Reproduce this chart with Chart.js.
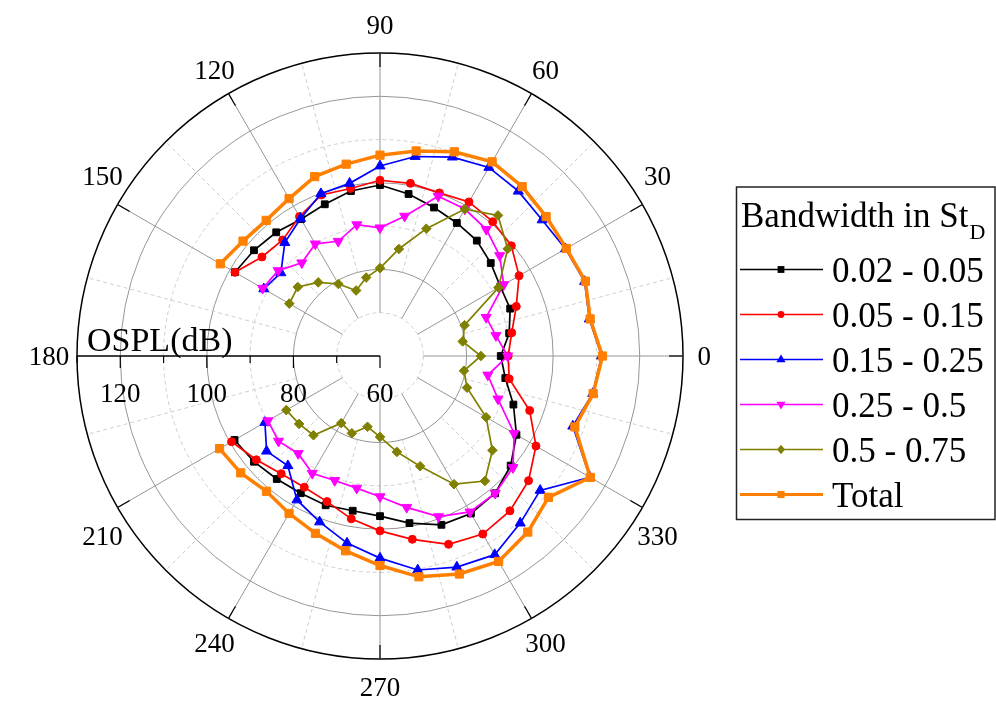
<!DOCTYPE html>
<html>
<head>
<meta charset="utf-8">
<script src="https://cdn.jsdelivr.net/npm/chart.js@4/dist/chart.umd.min.js"></script>
<style>
  html, body { margin: 0; padding: 0; background: #ffffff; }
  canvas { display: block; }
</style>
</head>
<body>
<canvas id="polar" width="996" height="702"></canvas>
<script>
// Directivity of OSPL (dB) per Strouhal band, sampled every 10 degrees.
// No data between 160 and 200 degrees.
const angles = [0, 10, 20, 30, 40, 50, 60, 70, 80, 90, 100, 110, 120, 130, 140, 150, 160, 170,
                180, 190, 200, 210, 220, 230, 240, 250, 260, 270, 280, 290, 300, 310, 320, 330, 340, 350];

const seriesLabels = ['0.02 - 0.05', '0.05 - 0.15', '0.15 - 0.25', '0.25 - 0.5', '0.5 - 0.75', 'Total'];

const osplBand1 = [87.9, 90.3, 92.0, 92.1, 93.4, 94.8, 95.5, 96.5, 98.0, 99.5, 98.7, 97.3, 96.5, 97.3, 98.0, 98.7,
                   null, null, null, null, null,
                   98.8, 98.0, 97.1, 96.6, 96.7, 96.3, 97.0, 99.2, 101.5, 102.0, 101.4, 99.4, 96.4, 92.8, 89.4];
const osplBand2 = [89.6, 90.9, 93.5, 97.1, 99.6, 100.5, 101.1, 100.1, 100.5, 100.6, 99.3, 99.6, 97.2, 95.0, 95.6, 98.7,
                   null, null, null, null, null,
                   99.6, 97.3, 95.5, 95.0, 95.8, 98.2, 100.4, 103.0, 106.3, 107.5, 106.7, 104.8, 101.6, 96.8, 90.3];
const osplBand3 = [111.2, 109.1, 110.3, 109.5, 108.9, 109.7, 110.3, 108.9, 106.8, 103.9, 100.5, 99.9, 96.7, 94.2, 89.9, 91.0,
                   null, null, null, null, null,
                   90.7, 94.2, 93.1, 98.4, 100.8, 103.9, 106.7, 110.2, 111.9, 113.0, 110.4, 108.3, 116.0, 107.4, 109.9];
const osplBand4 = [89.5, 87.2, 86.1, 93.0, 96.1, 98.2, 99.2, 99.3, 92.8, 89.6, 90.8, 88.2, 89.9, 88.1, 90.7, 91.3,
                   null, null, null, null, null,
                   89.9, 90.6, 89.4, 91.3, 90.6, 91.0, 92.5, 95.5, 99.5, 101.6, 101.4, 100.1, 95.8, 89.0, 85.3];
const osplBand5 = [83.3, 79.4, 80.8, 91.6, 98.5, 102.4, 99.2, 91.3, 85.1, 80.3, 78.4, 76.1, 79.2, 82.2, 84.8, 84.2,
                   null, null, null, null, null,
                   85.0, 84.4, 83.9, 77.9, 79.0, 76.6, 78.7, 82.5, 87.1, 94.2, 97.7, 93.9, 88.3, 81.4, 79.7];
const osplTotal = [111.4, 109.3, 110.5, 109.7, 110.1, 111.1, 111.8, 110.2, 108.1, 106.4, 105.0, 104.1, 102.0, 100.9, 101.3, 102.6,
                   null, null, null, null, null,
                   102.8, 102.0, 100.8, 102.0, 103.6, 105.7, 108.4, 111.8, 113.6, 114.8, 113.1, 110.8, 116.1, 107.9, 110.0];

const angleTickLabels = ['0', '30', '60', '90', '120', '150', '180', '210', '240', '270', '300', '330'];
const radialTickLabels = ['60', '80', '100', '120'];
const radialMin = 60;
const radialMax = 130;

const seriesValues = [osplBand1, osplBand2, osplBand3, osplBand4, osplBand5, osplTotal];

// Visual style of each series (same order as seriesLabels)
const seriesStyles = [
  { color: '#000000', point: 'rect',     radius: 4.8, rotation: 0,   lineWidth: 1.7, legendR: 3.4 },
  { color: '#ff0000', point: 'circle',   radius: 4.0, rotation: 0,   lineWidth: 1.7, legendR: 3.4 },
  { color: '#0000ff', point: 'triangle', radius: 5.8, rotation: 0,   lineWidth: 1.7, legendR: 4.4 },
  { color: '#ff00ff', point: 'triangle', radius: 5.8, rotation: 180, lineWidth: 1.7, legendR: 4.4 },
  { color: '#808000', point: 'rectRot',  radius: 4.8, rotation: 0,   lineWidth: 1.7, legendR: 4.0 },
  { color: '#ff8000', point: 'rect',     radius: 5.8, rotation: 0,   lineWidth: 3.5, legendR: 3.6 }
];

// Radar index i runs clockwise from the right; polar angle grows counter-clockwise.
const n = angles.length;
const radarOrder = angles.map((_, i) => (n - i) % n);
const radarLabels = radarOrder.map(k => String(angles[k]));

const datasets = seriesValues.map((vals, s) => {
  const st = seriesStyles[s];
  return {
    label: seriesLabels[s],
    data: radarOrder.map(k => vals[k]),
    borderColor: st.color,
    backgroundColor: st.color,
    borderWidth: st.lineWidth,
    pointStyle: st.point,
    pointRotation: st.rotation,
    pointRadius: st.radius,
    pointBorderWidth: 1,
    pointBorderColor: st.color,
    pointBackgroundColor: st.color,
    fill: false,
    spanGaps: false,
    tension: 0,
    order: seriesValues.length - s
  };
});

const SERIF = '"Liberation Serif", "Times New Roman", "DejaVu Serif", serif';

function drawMarker(ctx, kind, rotation, x, y, r, color) {
  ctx.save();
  ctx.fillStyle = color;
  ctx.beginPath();
  if (kind === 'rect') {
    ctx.rect(x - r, y - r, 2 * r, 2 * r);
  } else if (kind === 'circle') {
    ctx.arc(x, y, r, 0, Math.PI * 2);
  } else if (kind === 'triangle') {
    const s = rotation === 180 ? -1 : 1;
    ctx.moveTo(x, y - s * r * 1.15);
    ctx.lineTo(x + r * 1.05, y + s * r * 0.65);
    ctx.lineTo(x - r * 1.05, y + s * r * 0.65);
    ctx.closePath();
  } else if (kind === 'rectRot') {
    ctx.moveTo(x, y - r * 1.2);
    ctx.lineTo(x + r, y);
    ctx.lineTo(x, y + r * 1.2);
    ctx.lineTo(x - r, y);
    ctx.closePath();
  }
  ctx.fill();
  ctx.restore();
}

// Spokes, radial axis, tick labels and angle labels
const polarFrame = {
  id: 'polarFrame',
  beforeDatasetsDraw(chart) {
    const s = chart.scales.r;
    const ctx = chart.ctx;
    const cx = s.xCenter, cy = s.yCenter;
    const rIn = s.getDistanceFromCenterForValue(70);
    const rMid = s.getDistanceFromCenterForValue(80);
    const rOut = s.getDistanceFromCenterForValue(radialMax);
    ctx.save();

    // spokes: solid every 30 deg, dashed halfway between
    for (let deg = 0; deg < 360; deg += 15) {
      if (deg === 180) continue;
      const a = -deg * Math.PI / 180;
      const major = deg % 30 === 0;
      const p0 = s.getPointPosition(0, major ? rIn : rMid, a);
      const p1 = s.getPointPosition(0, rOut, a);
      ctx.beginPath();
      ctx.setLineDash(major ? [] : [4, 3]);
      ctx.strokeStyle = major ? '#969696' : '#cfcfcf';
      ctx.lineWidth = 1;
      ctx.moveTo(p0.x, p0.y);
      ctx.lineTo(p1.x, p1.y);
      ctx.stroke();
    }
    ctx.setLineDash([]);

    // inward ticks on the outer circle
    ctx.strokeStyle = '#000000';
    ctx.lineWidth = 1.2;
    for (let deg = 0; deg < 360; deg += 30) {
      if (deg === 180) continue;
      const a = -deg * Math.PI / 180;
      const p0 = s.getPointPosition(0, rOut, a);
      const p1 = s.getPointPosition(0, rOut - 14, a);
      ctx.beginPath();
      ctx.moveTo(p0.x, p0.y);
      ctx.lineTo(p1.x, p1.y);
      ctx.stroke();
    }

    // radial axis along 180 deg
    ctx.lineWidth = 1.5;
    ctx.beginPath();
    ctx.moveTo(cx - rOut, cy);
    ctx.lineTo(cx, cy);
    ctx.stroke();
    ctx.lineWidth = 1.2;
    for (let v = radialMin; v <= radialMax; v += 10) {
      const x = cx - s.getDistanceFromCenterForValue(v);
      const len = (v % 20 === 0) ? 12 : 7;
      ctx.beginPath();
      ctx.moveTo(x, cy);
      ctx.lineTo(x, cy + len);
      ctx.stroke();
    }

    ctx.fillStyle = '#000000';
    ctx.font = '27px ' + SERIF;
    ctx.textAlign = 'center';
    ctx.textBaseline = 'alphabetic';
    radialTickLabels.forEach(t => {
      const x = cx - s.getDistanceFromCenterForValue(Number(t));
      ctx.fillText(t, x, cy + 46);
    });

    ctx.font = '34px ' + SERIF;
    ctx.textAlign = 'left';
    ctx.fillText('OSPL(dB)', cx - rOut + 10, cy - 5);

    // angle labels, centred on a ring just outside the frame
    ctx.font = '27px ' + SERIF;
    ctx.textAlign = 'center';
    const capH = 27 * 0.68;
    angleTickLabels.forEach(t => {
      const deg = Number(t);
      const w = ctx.measureText(t).width;
      const sinA = Math.sin(deg * Math.PI / 180);
      const cosA = Math.cos(deg * Math.PI / 180);
      // labels near the horizontal lean slightly away from it
      const lean = (Math.abs(cosA) > 0.8 && Math.abs(sinA) > 0.1) ? 3 * Math.sign(sinA) * Math.sign(cosA) : 0;
      const a = -(deg + lean) * Math.PI / 180;
      const dist = rOut + 28 - (27 - Math.min(w, 27)) / 2 * Math.abs(cosA);
      const p = s.getPointPosition(0, dist, a);
      ctx.fillText(t, p.x, p.y + capH / 2);
    });
    ctx.restore();
  },

  afterDraw(chart) {
    const ctx = chart.ctx;
    ctx.save();
    // legend frame
    ctx.strokeStyle = '#222222';
    ctx.lineWidth = 1.5;
    ctx.strokeRect(736.5, 187, 258.5, 332.5);

    // title with subscript
    ctx.fillStyle = '#000000';
    ctx.textAlign = 'left';
    ctx.textBaseline = 'alphabetic';
    ctx.font = '35px ' + SERIF;
    const title = 'Bandwidth in St';
    ctx.fillText(title, 741, 227);
    const tw = ctx.measureText(title).width;
    ctx.font = '22px ' + SERIF;
    ctx.fillText('D', 742 + tw, 238.5);

    // entries
    ctx.font = '35px ' + SERIF;
    seriesLabels.forEach((lab, i) => {
      const st = seriesStyles[i];
      const y = 269.5 + i * 45;
      ctx.strokeStyle = st.color;
      ctx.lineWidth = st.lineWidth < 2 ? 1.5 : 3;
      ctx.beginPath();
      ctx.moveTo(740, y);
      ctx.lineTo(823, y);
      ctx.stroke();
      drawMarker(ctx, st.point, st.rotation, 781, y, st.legendR, st.color);
      ctx.fillStyle = '#000000';
      ctx.fillText(lab, 832, y + 12.2);
    });
    ctx.restore();
  }
};

new Chart(document.getElementById('polar'), {
  type: 'radar',
  data: { labels: radarLabels, datasets },
  options: {
    responsive: false,
    animation: false,
    events: [],
    layout: { padding: { left: 77, top: 53, right: 313, bottom: 43 } },
    plugins: {
      legend: { display: false },
      tooltip: { enabled: false },
      title: { display: false }
    },
    elements: { line: { tension: 0, fill: false } },
    scales: {
      r: {
        min: radialMin,
        max: radialMax,
        startAngle: 90,
        beginAtZero: false,
        ticks: { display: false, stepSize: 10 },
        pointLabels: { display: false },
        angleLines: { display: false },
        grid: {
          circular: true,
          color: c => {
            const v = c.tick ? c.tick.value : 0;
            if (v === radialMax) return '#000000';
            return (v % 20 === 0) ? '#969696' : '#cfcfcf';
          },
          lineWidth: c => (c.tick && c.tick.value === radialMax) ? 1.5 : 1
        },
        border: {
          dash: c => {
            const v = c.tick ? c.tick.value : 0;
            return (v !== radialMax && v % 20 !== 0) ? [4, 3] : [];
          }
        }
      }
    }
  },
  plugins: [polarFrame]
});
</script>
</body>
</html>
